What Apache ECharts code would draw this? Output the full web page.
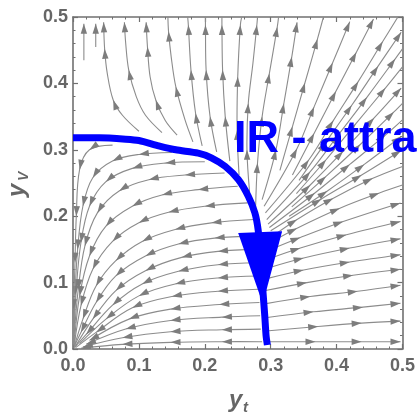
<!DOCTYPE html>
<html><head><meta charset="utf-8">
<script src="https://cdn.jsdelivr.net/npm/echarts@6/dist/echarts.min.js"></script>
<style>html,body{margin:0;padding:0;background:#fff}#c{width:418px;height:416px}</style>
</head><body><div id="c"></div>
<script>
// ---- data ----
const axisMin = 0, axisMax = 0.5, tickStep = 0.1;
const xTitle = ['y', 't'];
const yTitle = ['y', 'V'];
const annotation = 'IR - attractive';

// thick blue trajectory and its arrowhead (base centre -> tip)
const blueCurve = [[0,0.318],[0.04,0.318],[0.08,0.316],[0.1,0.314],[0.13,0.306],[0.156,0.3],[0.19,0.295],[0.21,0.288],[0.231,0.275],[0.251,0.255],[0.266,0.23],[0.276,0.205],[0.281,0.179],[0.285,0.135],[0.288,0.09],[0.291,0.05],[0.293,0.02],[0.295,0.006]];
const blueArrow = [[0.284,0.176],[0.288,0.068]];

// stream lines: each point after the first carries an arrowhead unless flagged with a third value 0
const streamsUp = [
 [[0.0165,0.435],[0.0165,0.49]],
 [[0.0345,0.455],[0.0345,0.49]],
 [[0.10,0.328],[0.075,0.352,0],[0.061,0.375],[0.052,0.415,0],[0.048,0.452],[0.0465,0.492]],
 [[0.135,0.326],[0.11,0.352,0],[0.096,0.38,0],[0.0846,0.42],[0.08,0.46,0],[0.078,0.492]],
 [[0.158,0.322],[0.14,0.344,0],[0.1256,0.375],[0.117,0.41,0],[0.113,0.455],[0.111,0.492]],
 [[0.182,0.312],[0.17,0.345,0],[0.156,0.395],[0.149,0.44,0],[0.145,0.478],[0.144,0.5,0]],
 [[0.196,0.306],[0.186,0.355],[0.179,0.42],[0.175,0.488],[0.174,0.5,0]],
 [[0.218,0.297],[0.208,0.35],[0.202,0.42],[0.201,0.488],[0.201,0.5,0]],
 [[0.238,0.283],[0.231,0.35],[0.227,0.42],[0.226,0.488],[0.226,0.5,0]],
 [[0.252,0.262],[0.249,0.33],[0.25,0.41],[0.254,0.488],[0.256,0.5,0]],
 [[0.268,0.236],[0.264,0.3],[0.266,0.37],[0.273,0.43,0],[0.279,0.488],[0.28,0.5,0]],
 [[0.277,0.21],[0.28,0.28],[0.287,0.35],[0.298,0.415],[0.31,0.485],[0.312,0.5,0]]
];
const streamsRight = [
 [[0.297,0.011],[0.368,0.011],[0.438,0.011],[0.497,0.011]],
 [[0.293,0.027],[0.372,0.034],[0.438,0.039],[0.497,0.042]],
 [[0.292,0.047],[0.365,0.056],[0.44,0.063],[0.497,0.069]],
 [[0.291,0.068],[0.36,0.079],[0.432,0.087],[0.497,0.096]],
 [[0.292,0.088],[0.355,0.1],[0.425,0.111],[0.497,0.12]],
 [[0.294,0.106],[0.35,0.119],[0.42,0.131],[0.497,0.142]],
 [[0.296,0.122],[0.35,0.137],[0.42,0.152],[0.497,0.166]],
 [[0.298,0.136],[0.345,0.152],[0.415,0.172],[0.497,0.192]],
 [[0.30,0.15],[0.345,0.168],[0.41,0.192],[0.497,0.22]],
 [[0.302,0.162],[0.34,0.182],[0.405,0.212],[0.465,0.235],[0.5,0.247,0]],
 [[0.303,0.17],[0.34,0.195],[0.395,0.227],[0.455,0.257],[0.5,0.275,0]],
 [[0.3,0.178],[0.377,0.226],[0.438,0.262],[0.498,0.299]],
 [[0.328,0.2],[0.386,0.238],[0.442,0.278],[0.498,0.32]],
 [[0.298,0.183],[0.367,0.235],[0.42,0.278],[0.474,0.322],[0.5,0.345,0]],
 [[0.332,0.214],[0.384,0.26],[0.436,0.308],[0.487,0.357],[0.5,0.37,0]],
 [[0.296,0.188],[0.36,0.247],[0.41,0.298],[0.457,0.348],[0.498,0.393]],
 [[0.339,0.234],[0.384,0.285],[0.429,0.339],[0.474,0.393],[0.5,0.425,0]],
 [[0.294,0.195],[0.36,0.267],[0.403,0.323],[0.446,0.379],[0.489,0.437],[0.5,0.452,0]],
 [[0.343,0.254],[0.384,0.312],[0.423,0.367],[0.463,0.426],[0.498,0.477]],
 [[0.292,0.205],[0.358,0.285],[0.395,0.344],[0.433,0.403],[0.47,0.463],[0.493,0.5,0]],
 [[0.333,0.262],[0.366,0.325],[0.399,0.388],[0.43,0.447],[0.456,0.497]],
 [[0.29,0.215],[0.34,0.302],[0.366,0.365],[0.394,0.431],[0.42,0.493]],
 [[0.314,0.269],[0.333,0.335],[0.352,0.401],[0.371,0.467],[0.38,0.5,0]],
 [[0.287,0.225],[0.308,0.3],[0.32,0.37],[0.332,0.44],[0.34,0.492]]
];
const streamsIn = [
 [[0.287,0.011],[0.226,0.011],[0.148,0.01],[0.075,0.007],[0.012,0.001]],
 [[0.285,0.03],[0.226,0.029],[0.148,0.026],[0.075,0.017],[0.015,0.003]],
 [[0.284,0.05],[0.226,0.048],[0.148,0.043],[0.08,0.03],[0.02,0.007]],
 [[0.283,0.07],[0.222,0.067],[0.148,0.06],[0.085,0.045],[0.025,0.013]],
 [[0.282,0.09],[0.22,0.087],[0.15,0.079],[0.09,0.062],[0.035,0.025],[0.004,0.002,0]],
 [[0.282,0.11],[0.22,0.107],[0.155,0.098],[0.1,0.08],[0.05,0.045],[0.01,0.008,0]],
 [[0.281,0.13],[0.22,0.127],[0.16,0.117],[0.105,0.098],[0.06,0.066],[0.02,0.022],[0.002,0.002,0]],
 [[0.28,0.15],[0.22,0.147],[0.165,0.138],[0.11,0.118],[0.065,0.088],[0.03,0.045],[0.003,0.003,0]],
 [[0.279,0.17],[0.215,0.167],[0.16,0.158],[0.11,0.14],[0.065,0.11],[0.035,0.07],[0.012,0.025],[0.001,0.002,0]],
 [[0.275,0.195],[0.21,0.19],[0.155,0.18],[0.105,0.162],[0.065,0.133],[0.035,0.095],[0.015,0.045],[0.002,0.004,0]],
 [[0.265,0.22],[0.2,0.215],[0.145,0.206],[0.1,0.19],[0.06,0.162],[0.03,0.12],[0.012,0.065],[0.002,0.006,0]],
 [[0.25,0.245],[0.19,0.24],[0.135,0.232],[0.09,0.215],[0.05,0.185],[0.025,0.14],[0.01,0.08],[0.002,0.01,0]],
 [[0.23,0.265],[0.17,0.262],[0.115,0.255],[0.07,0.238],[0.037,0.205],[0.018,0.155],[0.008,0.09],[0.001,0.01,0]],
 [[0.2,0.282],[0.14,0.28],[0.09,0.272],[0.05,0.252],[0.025,0.215],[0.012,0.16],[0.005,0.09],[0.001,0.01,0]],
 [[0.15,0.296],[0.1,0.293],[0.06,0.283],[0.03,0.258],[0.015,0.215],[0.007,0.15],[0.003,0.08],[0.0005,0.01,0]],
 [[0.06,0.307],[0.025,0.3],[0.01,0.27],[0.005,0.2],[0.003,0.13],[0.001,0.06],[0.0003,0.005,0]]
];

// ---- style ----
const AX = '#707070', LBL = '#666666', GL = '#8c8c8c', GA = '#7d7d7d', BLUE = '#0000ff';
const FONT = '"Liberation Sans", Arial, sans-serif';

function streamRenderer(list) {
  return function (params, api) {
    const line = list[params.dataIndex];
    const pts = line.map(p => api.coord([p[0], p[1]]));
    const children = [{
      type: 'polyline', shape: { points: pts, smooth: 0.35 },
      style: { stroke: GL, lineWidth: 1.1, fill: null }
    }];
    for (let i = 1; i < line.length; i++) {
      if (line[i][2] === 0) continue;
      const a = pts[i - 1], b = pts[i + 1] || pts[i];
      let dx = b[0] - a[0], dy = b[1] - a[1];
      const L = Math.hypot(dx, dy) || 1; dx /= L; dy /= L;
      const t = pts[i], len = 10, hw = 3.2;
      const bx = t[0] - dx * len, by = t[1] - dy * len;
      children.push({
        type: 'polygon',
        shape: { points: [[t[0], t[1]], [bx - dy * hw, by + dx * hw], [bx + dy * hw, by - dx * hw]] },
        style: { fill: GA }
      });
    }
    return { type: 'group', children };
  };
}
function streamSeries(list) {
  return {
    type: 'custom', coordinateSystem: 'cartesian2d', clip: true, silent: true,
    data: list.map(s => s[0]), renderItem: streamRenderer(list), z: 2
  };
}

function axisCommon(pos, showLabel) {
  return {
    type: 'value', min: axisMin, max: axisMax, interval: tickStep, position: pos,
    axisLine: { show: true, onZero: false, lineStyle: { color: AX, width: 1.6 } },
    axisTick: { show: true, inside: true, length: 5, lineStyle: { color: AX, width: 1.2 } },
    minorTick: { show: true, splitNumber: 5, length: 2.5, lineStyle: { color: AX, width: 1 } },
    splitLine: { show: false },
    axisLabel: {
      show: showLabel, formatter: v => v.toFixed(1), color: LBL, fontSize: 18,
      fontWeight: 'bold', fontFamily: FONT, showMinLabel: true, showMaxLabel: true
    }
  };
}

const chart = echarts.init(document.getElementById('c'), null, { renderer: 'canvas' });
const xb = axisCommon('bottom', true); xb.axisLabel.margin = 8;
const yl = axisCommon('left', true); yl.axisLabel.margin = 5;
chart.setOption({
  animation: false,
  backgroundColor: '#ffffff',
  grid: { left: 73, right: 12, top: 17, bottom: 67, containLabel: false },
  xAxis: [xb, axisCommon('top', false)],
  yAxis: [yl, axisCommon('right', false)],
  series: [
    streamSeries(streamsUp),
    streamSeries(streamsRight),
    streamSeries(streamsIn),
    {
      type: 'line', data: blueCurve, smooth: 0.25, showSymbol: false, silent: true, z: 5,
      lineStyle: { color: BLUE, width: 7, cap: 'butt', join: 'round' }
    },
    {
      type: 'custom', coordinateSystem: 'cartesian2d', silent: true, z: 6, clip: false,
      data: [blueArrow[0]],
      renderItem: function (params, api) {
        const b = api.coord(blueArrow[0]), t = api.coord(blueArrow[1]);
        let dx = t[0] - b[0], dy = t[1] - b[1];
        const L = Math.hypot(dx, dy) || 1; dx /= L; dy /= L;
        const hw = 22;
        return {
          type: 'polygon',
          shape: { points: [[t[0], t[1]], [b[0] - dy * hw, b[1] + dx * hw], [b[0] + dy * hw, b[1] - dx * hw]] },
          style: { fill: BLUE }
        };
      }
    }
  ],
  graphic: [
    { type: 'text', x: 234, y: 117, z: 10, silent: true,
      style: { text: annotation, font: 'bold 45px ' + FONT, fill: BLUE } },
    { type: 'text', x: 229, y: 388, silent: true,
      style: { text: xTitle[0], font: 'italic bold 24px ' + FONT, fill: LBL } },
    { type: 'text', x: 243, y: 400, silent: true,
      style: { text: xTitle[1], font: 'italic bold 15px ' + FONT, fill: LBL } },
    { type: 'group', x: 5, y: 197, rotation: Math.PI / 2, silent: true, children: [
      { type: 'text', x: 0, y: 0, style: { text: yTitle[0], font: 'italic bold 24px ' + FONT, fill: LBL } },
      { type: 'text', x: 16, y: 12, style: { text: yTitle[1], font: 'italic bold 14px ' + FONT, fill: LBL } }
    ] }
  ]
});
</script>
</body></html>
